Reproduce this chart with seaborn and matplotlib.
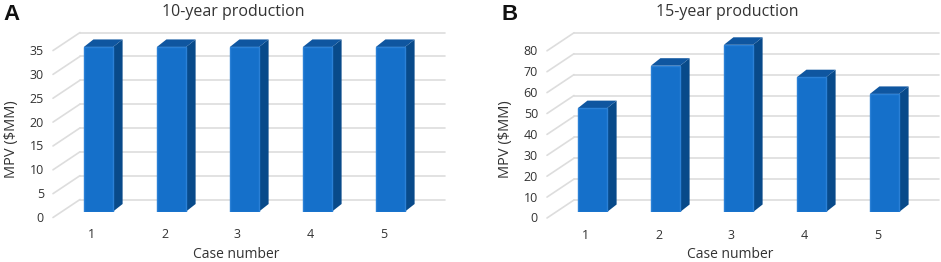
import matplotlib
matplotlib.use("Agg")
import matplotlib.pyplot as plt
import pandas as pd
import seaborn as sns
from matplotlib.patches import Polygon
from matplotlib.transforms import Affine2D

# -----------------------------
# DATA
# -----------------------------
cases = ["1", "2", "3", "4", "5"]
mpv_10yr = [34.5, 34.5, 34.5, 34.5, 34.5]
mpv_15yr = [49.7, 70, 80, 64.5, 56.5]
ticks_10yr = [0, 5, 10, 15, 20, 25, 30, 35]
ticks_15yr = [0, 10, 20, 30, 40, 50, 60, 70, 80]

# -----------------------------
# STYLE
# -----------------------------
W, H = 941, 262
FRONT = "#1570CA"
EDGE = "#2A80D6"
SIDE = "#084A8A"
TOP = "#0F56A0"
GRID = "#DDDDDD"
TEXT = "#333333"

sns.set_theme(style="white")
plt.rcParams["font.family"] = ["Open Sans", "DejaVu Sans"]


def shift(ax, dx, dy):
    # pixel offset on top of the data scale, fakes the 3D depth
    return ax.transData + Affine2D().translate(dx, -dy)


def panel(rect, values, ticks, title, letter, letter_x, title_x, ylabel_x, xlabel_x):
    left, right, base, unit = rect
    top = ticks[-1]
    ax = fig.add_axes([left / W, 1 - base / H, (right - left) / W, unit * top / H])
    df = pd.DataFrame({"case": cases, "mpv": values})
    sns.barplot(data=df, x="case", y="mpv", ax=ax, color=FRONT, saturation=1,
                width=0.4, edgecolor=EDGE, linewidth=1, zorder=3)
    ax.set_xlim(-0.5, 4.5)
    ax.set_ylim(0, top)
    x0, x1 = ax.get_xlim()

    # back wall lines and the diagonal floor/side lines
    for t in ticks:
        ax.plot([x0, x1], [t, t], color=GRID, lw=1.2, clip_on=False, zorder=1,
                transform=shift(ax, 18, -12))
        back = shift(ax, 18, -12).transform((x0, t))
        front = shift(ax, -9, 6).transform((x0, t))
        ax.plot([front[0], back[0]], [front[1], back[1]], color=GRID, lw=1.2,
                clip_on=False, zorder=1, transform=None)

    # side and top faces of each bar
    for bar in ax.patches[:len(cases)]:
        xa, xb = bar.get_x(), bar.get_x() + bar.get_width()
        h = bar.get_height()
        to_px = ax.transData.transform
        a, b, c = to_px((xa, h)), to_px((xb, h)), to_px((xb, 0))
        d = (9.5, 7.5)
        ax.add_patch(Polygon([b, c, c + d, b + d], closed=True, facecolor=SIDE,
                             edgecolor="none", transform=None, zorder=2, clip_on=False))
        ax.add_patch(Polygon([a, b, b + d, a + d], closed=True, facecolor=TOP,
                             edgecolor="none", transform=None, zorder=2, clip_on=False))

    ax.set_yticks(ticks)
    ax.set_xlabel("")
    ax.set_ylabel("")
    ax.tick_params(axis="both", length=0, labelsize=9, labelcolor=TEXT)
    ax.tick_params(axis="x", pad=12)
    ax.tick_params(axis="y", pad=13)
    for lab in ax.get_xticklabels():
        lab.set_transform(lab.get_transform() + Affine2D().translate(-7, 0))
    for lab in ax.get_yticklabels():
        lab.set_transform(lab.get_transform() + Affine2D().translate(0, -5.5))
    sns.despine(ax=ax, left=True, bottom=True)

    fig.text(title_x / W, 1 - 12 / H, title, ha="center", va="center", fontsize=11.5, color=TEXT)
    fig.text(xlabel_x / W, 1 - 255 / H, "Case number", ha="center", va="center",
             fontsize=10, color=TEXT)
    fig.text(ylabel_x / W, 1 - 139 / H, "MPV ($MM)", rotation=90, ha="center", va="center",
             fontsize=10.5, color=TEXT)
    fig.text(letter_x / W, 1 - 14 / H, letter, ha="center", va="center", fontsize=16,
             fontweight="bold", family="Liberation Sans", color="#111111")


# -----------------------------
# FIGURE
# -----------------------------
fig = plt.figure(figsize=(W / 100, H / 100), dpi=100)
panel((62, 427, 211.5, 4.77), mpv_10yr, ticks_10yr, "10-year production", "A", 11, 233, 12, 236)
panel((556, 921, 212, 2.09), mpv_15yr, ticks_15yr, "15-year production", "B", 510, 727, 506, 730)
fig.savefig("out.png", dpi=100)
